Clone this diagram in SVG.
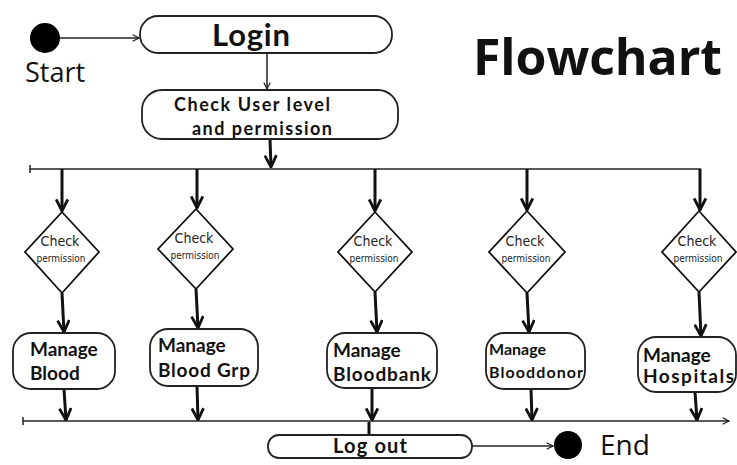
<svg xmlns="http://www.w3.org/2000/svg" width="737" height="465" viewBox="0 0 737 465">
<defs>
<style>
.box{fill:#fff;stroke:#222;stroke-width:1.8}
.dia{fill:#fff;stroke:#111;stroke-width:1.8}
.thin{stroke:#222;stroke-width:1.5;fill:none}
.thick{stroke:#111;stroke-width:3;fill:none}
.lbl{font-family:"Lato","Open Sans",sans-serif;font-weight:bold;fill:#111}
.chk{font-family:"DejaVu Sans","Open Sans",sans-serif;font-stretch:condensed;fill:#222;text-anchor:middle}
.big{font-family:"Open Sans",sans-serif;fill:#111}
</style>
<marker id="ah" viewBox="0 0 10 10" refX="9" refY="5" markerWidth="8" markerHeight="8" orient="auto" markerUnits="userSpaceOnUse">
<path d="M1,1 L9,5 L1,9" fill="none" stroke="#222" stroke-width="1.5"/>
</marker>
<marker id="ahb" viewBox="0 0 12 12" refX="11" refY="6" markerWidth="14" markerHeight="14" orient="auto" markerUnits="userSpaceOnUse">
<path d="M1,1 L11,6 L1,11" fill="none" stroke="#111" stroke-width="2.4"/>
</marker>
</defs>
<rect width="737" height="465" fill="#fff"/>

<g id="connectors">
<line class="thin" x1="60" y1="38" x2="139" y2="38" marker-end="url(#ah)"/>
<line class="thin" x1="267" y1="53" x2="267" y2="89" marker-end="url(#ah)"/>
<line class="thick" x1="270" y1="139" x2="271" y2="167" marker-end="url(#ahb)"/>
<line class="thin" x1="30" y1="169" x2="701" y2="169"/>
<line class="thin" x1="30" y1="165" x2="30" y2="173"/>
<line class="thick" x1="62" y1="169" x2="62" y2="211" marker-end="url(#ahb)"/>
<line class="thick" x1="197" y1="169" x2="197" y2="208" marker-end="url(#ahb)"/>
<line class="thick" x1="375" y1="169" x2="375" y2="211" marker-end="url(#ahb)"/>
<line class="thick" x1="527" y1="169" x2="527" y2="210" marker-end="url(#ahb)"/>
<line class="thick" x1="700" y1="169" x2="700" y2="210" marker-end="url(#ahb)"/>
<line class="thick" x1="62" y1="293" x2="64" y2="332" marker-end="url(#ahb)"/>
<line class="thick" x1="196" y1="289" x2="198" y2="328" marker-end="url(#ahb)"/>
<line class="thick" x1="375" y1="292" x2="377" y2="332" marker-end="url(#ahb)"/>
<line class="thick" x1="527" y1="293" x2="529" y2="332" marker-end="url(#ahb)"/>
<line class="thick" x1="699" y1="292" x2="701" y2="336" marker-end="url(#ahb)"/>
<line class="thick" x1="64" y1="389" x2="66" y2="420" marker-end="url(#ahb)"/>
<line class="thick" x1="197" y1="386" x2="198" y2="420" marker-end="url(#ahb)"/>
<line class="thick" x1="372" y1="388" x2="372" y2="420" marker-end="url(#ahb)"/>
<line class="thick" x1="531" y1="389" x2="532" y2="420" marker-end="url(#ahb)"/>
<line class="thick" x1="695" y1="392" x2="697" y2="420" marker-end="url(#ahb)"/>
<line class="thin" x1="23" y1="421" x2="729" y2="421" marker-end="url(#ah)"/>
<line class="thin" x1="23" y1="417" x2="23" y2="425"/>
<line class="thick" x1="369" y1="422" x2="369" y2="435"/>
<line class="thin" x1="472" y1="446" x2="553" y2="446" marker-end="url(#ah)"/>
</g>

<g id="start">
<circle cx="45" cy="38" r="15" fill="#000"/>
<text class="big" x="25" y="82" font-size="27">Start</text>
</g>

<g id="login">
<rect class="box" x="140" y="16" width="252" height="37" rx="18"/>
<text class="lbl" x="212" y="46" font-size="31" font-family="Open Sans" textLength="78">Login</text>
</g>

<g id="check-user">
<rect class="box" x="142" y="90" width="256" height="49" rx="20"/>
<text class="lbl" x="174" y="111" font-size="18" textLength="156">Check User level</text>
<text class="lbl" x="192" y="135" font-size="18" textLength="140">and permission</text>
</g>

<g id="title">
<text class="big" x="473" y="75" font-size="50" font-weight="bold" textLength="249">Flowchart</text>
</g>

<g id="check1">
<polygon class="dia" points="62,212 99,252 62,293 25,252"/>
<text class="chk" x="60" y="246" font-size="14">Check</text>
<text class="chk" x="61" y="262" font-size="10">permission</text>
</g>
<g id="check2">
<polygon class="dia" points="196,209 233,249 196,289 158,249"/>
<text class="chk" x="194" y="243" font-size="14">Check</text>
<text class="chk" x="195" y="259" font-size="10">permission</text>
</g>
<g id="check3">
<polygon class="dia" points="375,212 412,252 375,292 338,252"/>
<text class="chk" x="373" y="246" font-size="14">Check</text>
<text class="chk" x="374" y="262" font-size="10">permission</text>
</g>
<g id="check4">
<polygon class="dia" points="527,211 565,252 527,293 489,252"/>
<text class="chk" x="525" y="246" font-size="14">Check</text>
<text class="chk" x="526" y="262" font-size="10">permission</text>
</g>
<g id="check5">
<polygon class="dia" points="699,211 736,252 699,292 662,252"/>
<text class="chk" x="697" y="246" font-size="14">Check</text>
<text class="chk" x="698" y="262" font-size="10">permission</text>
</g>

<g id="manage-blood">
<rect class="box" x="13" y="333" width="102" height="56" rx="18"/>
<text class="lbl" x="30" y="356" font-size="19">Manage</text>
<text class="lbl" x="30" y="380" font-size="19">Blood</text>
</g>
<g id="manage-bloodgrp">
<rect class="box" x="150" y="329" width="108" height="57" rx="18"/>
<text class="lbl" x="158" y="352" font-size="19">Manage</text>
<text class="lbl" x="158" y="377" font-size="19" textLength="92">Blood Grp</text>
</g>
<g id="manage-bloodbank">
<rect class="box" x="327" y="333" width="110" height="55" rx="18"/>
<text class="lbl" x="333" y="357" font-size="19">Manage</text>
<text class="lbl" x="333" y="381" font-size="19" textLength="98">Bloodbank</text>
</g>
<g id="manage-blooddonor">
<rect class="box" x="486" y="333" width="99" height="56" rx="18"/>
<text class="lbl" x="489" y="355" font-size="16" font-weight="600">Manage</text>
<text class="lbl" x="489" y="378" font-size="16" font-weight="600" textLength="94">Blooddonor</text>
</g>
<g id="manage-hospitals">
<rect class="box" x="638" y="337" width="98" height="55" rx="18"/>
<text class="lbl" x="643" y="362" font-size="19">Manage</text>
<text class="lbl" x="643" y="383" font-size="19" textLength="91">Hospitals</text>
</g>

<g id="logout">
<rect class="box" x="268" y="435" width="204" height="23" rx="11"/>
<text class="lbl" x="333" y="453" font-size="20" font-family="Open Sans" textLength="74">Log out</text>
</g>

<g id="end">
<circle cx="568" cy="445" r="14" fill="#000"/>
<text class="big" x="600" y="455" font-size="28">End</text>
</g>
</svg>
